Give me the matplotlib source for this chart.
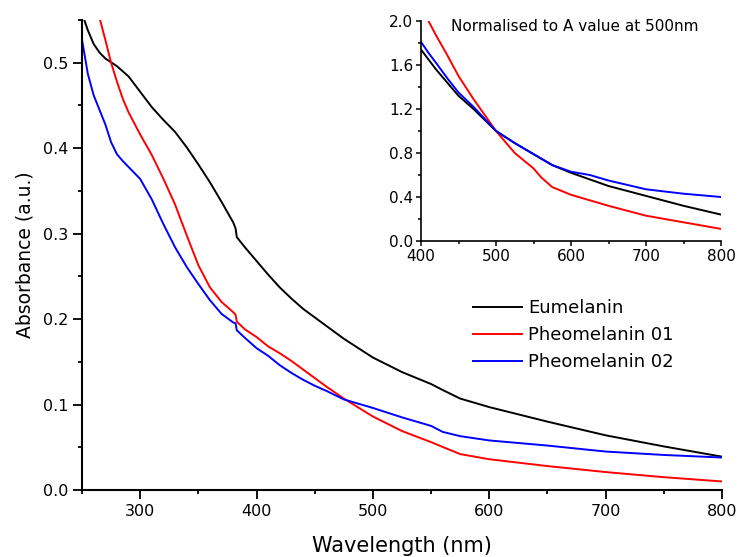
import matplotlib
matplotlib.use("Agg")
import matplotlib.pyplot as plt
from matplotlib.ticker import MultipleLocator, FormatStrFormatter

plt.rcParams['font.family'] = ['DejaVu Sans']

# ---- main panel data (absorbance) ----
wl_eu = [250, 255, 260, 265, 270, 280, 290, 295, 300, 310, 320, 330, 340, 350, 360, 370, 380,
         382, 383, 390, 400, 410, 420, 430, 440, 450, 460, 475, 500, 525, 550, 560, 575, 600,
         650, 700, 750, 800]
abs_eu = [0.558, 0.538, 0.522, 0.512, 0.505, 0.496, 0.484, 0.475, 0.466, 0.448, 0.433, 0.419,
          0.401, 0.381, 0.360, 0.337, 0.313, 0.306, 0.296, 0.284, 0.268, 0.252, 0.237, 0.224,
          0.212, 0.202, 0.192, 0.177, 0.155, 0.138, 0.124, 0.117, 0.107, 0.097, 0.080, 0.064,
          0.051, 0.039]

wl_ph1 = [265, 270, 275, 280, 285, 290, 300, 310, 320, 330, 340, 350, 360, 370, 380, 382, 383,
          390, 400, 410, 420, 430, 440, 450, 460, 475, 500, 525, 550, 575, 600, 650, 700, 750, 800]
abs_ph1 = [0.553, 0.527, 0.500, 0.478, 0.458, 0.442, 0.416, 0.392, 0.364, 0.334, 0.298, 0.263,
           0.237, 0.220, 0.208, 0.205, 0.197, 0.188, 0.179, 0.168, 0.160, 0.151, 0.141, 0.131,
           0.121, 0.107, 0.086, 0.069, 0.056, 0.042, 0.036, 0.028, 0.021, 0.015, 0.010]

wl_ph2 = [250, 255, 260, 265, 270, 275, 280, 285, 290, 300, 310, 320, 330, 340, 350, 360, 370,
          380, 382, 383, 390, 400, 410, 420, 430, 440, 450, 460, 475, 500, 525, 550, 560, 575,
          600, 650, 700, 750, 800]
abs_ph2 = [0.527, 0.487, 0.462, 0.445, 0.428, 0.407, 0.393, 0.385, 0.378, 0.364, 0.340, 0.311,
           0.284, 0.261, 0.241, 0.222, 0.206, 0.196, 0.195, 0.187, 0.178, 0.166, 0.157, 0.146,
           0.137, 0.129, 0.122, 0.116, 0.106, 0.096, 0.085, 0.075, 0.068, 0.063, 0.058, 0.052,
           0.045, 0.041, 0.038]

# ---- inset data (normalised to A at 500 nm) ----
wl_in = [400, 410, 420, 435, 450, 470, 500, 525, 550, 560, 575, 600, 625, 650, 700, 750, 800]
norm_eu = [1.74, 1.65, 1.56, 1.44, 1.32, 1.20, 1.00, 0.89, 0.79, 0.75, 0.69, 0.62, 0.56,
           0.50, 0.41, 0.32, 0.24]
norm_ph1 = [2.12, 2.00, 1.87, 1.69, 1.50, 1.29, 1.00, 0.80, 0.66, 0.58, 0.49, 0.42, 0.37,
            0.32, 0.23, 0.17, 0.11]
norm_ph2 = [1.81, 1.71, 1.62, 1.48, 1.35, 1.22, 1.00, 0.89, 0.79, 0.75, 0.69, 0.63, 0.60,
            0.55, 0.47, 0.43, 0.40]

labels = ["Eumelanin", "Pheomelanin 01", "Pheomelanin 02"]
colors = ["black", "#ff0000", "#0000ff"]

W, H = 739, 557
fig = plt.figure(figsize=(W / 100, H / 100), dpi=100)

ax = fig.add_axes([82 / W, 1 - 490 / H, (722 - 82) / W, (490 - 20) / H])
ax.plot(wl_eu, abs_eu, color=colors[0], lw=1.4, label=labels[0])
ax.plot(wl_ph1, abs_ph1, color=colors[1], lw=1.4, label=labels[1])
ax.plot(wl_ph2, abs_ph2, color=colors[2], lw=1.4, label=labels[2])
ax.set_xlim(250, 800)
ax.set_ylim(0, 0.55)
ax.xaxis.set_major_locator(MultipleLocator(100))
ax.xaxis.set_minor_locator(MultipleLocator(50))
ax.yaxis.set_major_locator(MultipleLocator(0.1))
ax.yaxis.set_minor_locator(MultipleLocator(0.05))
for s in ['top', 'right']:
    ax.spines[s].set_visible(False)
for s in ['left', 'bottom']:
    ax.spines[s].set_linewidth(1.5)
ax.tick_params(which='major', direction='out', length=6.5, width=1.3, labelsize=11.5)
ax.tick_params(which='minor', direction='out', length=3.2, width=1.3)
ax.set_xlabel("Wavelength (nm)", fontsize=15, labelpad=12)
ax.set_ylabel("Absorbance (a.u.)", fontsize=13.5, labelpad=6)
leg = ax.legend(loc='upper left', bbox_to_anchor=((473 - 82) / 640, (490 - 299) / 470),
                frameon=False, fontsize=13, handlelength=2.7, handletextpad=0.35,
                labelspacing=0.5, borderaxespad=0, borderpad=0)

# inset
axi = fig.add_axes([421 / W, 1 - 241 / H, 300 / W, 220 / H])
axi.plot(wl_in, norm_eu, color=colors[0], lw=1.4)
axi.plot(wl_in, norm_ph1, color=colors[1], lw=1.4)
axi.plot(wl_in, norm_ph2, color=colors[2], lw=1.4)
axi.set_xlim(400, 800)
axi.set_ylim(0, 2.0)
axi.xaxis.set_major_locator(MultipleLocator(100))
axi.xaxis.set_minor_locator(MultipleLocator(50))
axi.yaxis.set_major_locator(MultipleLocator(0.4))
axi.yaxis.set_minor_locator(MultipleLocator(0.2))
for s in ['top', 'right']:
    axi.spines[s].set_visible(False)
for s in ['left', 'bottom']:
    axi.spines[s].set_linewidth(1.2)
axi.tick_params(which='major', direction='out', length=3.5, width=1.1, labelsize=11, pad=2)
axi.tick_params(which='minor', direction='out', length=2, width=1.1)
axi.yaxis.set_major_formatter(FormatStrFormatter('%.1f'))
axi.text(0.1, 0.973, "Normalised to A value at 500nm", transform=axi.transAxes,
         fontsize=11, va='center', ha='left')

fig.savefig("out.png", dpi=100)
